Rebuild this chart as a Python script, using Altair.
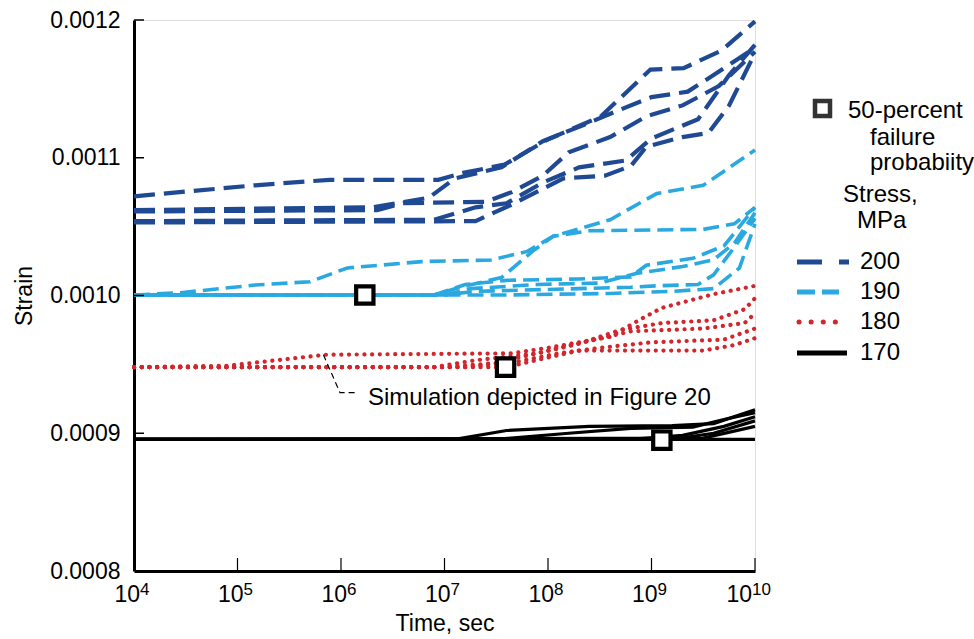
import altair as alt
import pandas as pd

# ---------------- data ----------------
# each curve: log10(time, s) and strain
# Stress = 200 MPa
S200_A_LOGT = [4.00, 5.17, 5.89, 6.94, 7.18, 7.58, 7.99, 8.51, 8.99, 9.31, 9.68, 10.00]
S200_A_STRAIN = [0.001072, 0.001080, 0.001084, 0.001084, 0.001089, 0.001095, 0.001113, 0.001130, 0.001164, 0.001165, 0.001178, 0.001199]
S200_B_LOGT = [4.00, 6.30, 6.85, 7.10, 7.55, 7.95, 8.35, 8.70, 9.00, 9.35, 9.60, 10.00]
S200_B_STRAIN = [0.001062, 0.001064, 0.001071, 0.001085, 0.001093, 0.001112, 0.001124, 0.001135, 0.001144, 0.001148, 0.001160, 0.001180]
S200_C_LOGT = [4.00, 6.35, 6.60, 7.40, 7.65, 7.95, 8.20, 8.60, 8.95, 9.30, 9.65, 10.00]
S200_C_STRAIN = [0.001061, 0.001062, 0.001067, 0.001068, 0.001075, 0.001087, 0.001104, 0.001115, 0.001130, 0.001138, 0.001152, 0.001177]
S200_D_LOGT = [4.00, 6.90, 7.30, 7.60, 7.95, 8.30, 8.75, 9.00, 9.45, 9.75, 10.00]
S200_D_STRAIN = [0.001054, 0.001055, 0.001064, 0.001067, 0.001082, 0.001093, 0.001098, 0.001114, 0.001128, 0.001160, 0.001182]
S200_E_LOGT = [4.00, 7.30, 7.65, 8.15, 8.55, 8.80, 8.95, 9.30, 9.55, 9.75, 10.00]
S200_E_STRAIN = [0.001053, 0.001054, 0.001066, 0.001085, 0.001087, 0.001094, 0.001108, 0.001115, 0.001118, 0.001138, 0.001176]

# Stress = 190 MPa
S190_F_LOGT = [4.00, 4.45, 5.17, 5.70, 6.06, 6.78, 7.45, 7.80, 8.05, 8.60, 9.05, 9.50, 10.00]
S190_F_STRAIN = [0.0010004, 0.0010020, 0.0010076, 0.0010100, 0.0010200, 0.0010246, 0.0010258, 0.0010320, 0.0010430, 0.0010550, 0.0010740, 0.0010800, 0.0011056]
S190_G_LOGT = [4.00, 6.90, 7.15, 7.55, 7.85, 8.05, 8.40, 9.50, 9.80, 10.00]
S190_G_STRAIN = [0.0010004, 0.0010004, 0.0010060, 0.0010130, 0.0010320, 0.0010430, 0.0010470, 0.0010480, 0.0010520, 0.0010640]
S190_H_LOGT = [4.00, 6.90, 7.20, 7.60, 8.30, 8.80, 8.95, 9.40, 9.70, 10.00]
S190_H_STRAIN = [0.0010004, 0.0010004, 0.0010080, 0.0010110, 0.0010120, 0.0010135, 0.0010220, 0.0010270, 0.0010360, 0.0010640]
S190_I_LOGT = [4.00, 7.00, 7.25, 7.90, 8.50, 8.85, 9.30, 9.60, 9.80, 10.00]
S190_I_STRAIN = [0.0010004, 0.0010004, 0.0010050, 0.0010080, 0.0010090, 0.0010160, 0.0010210, 0.0010260, 0.0010380, 0.0010600]
S190_J_LOGT = [4.00, 7.00, 7.30, 8.80, 9.05, 9.45, 9.60, 9.80, 10.00]
S190_J_STRAIN = [0.0010004, 0.0010004, 0.0010030, 0.0010060, 0.0010070, 0.0010080, 0.0010150, 0.0010350, 0.0010560]
S190_K_LOGT = [4.00, 7.60, 8.60, 9.20, 9.60, 9.85, 10.00]
S190_K_STRAIN = [0.0010004, 0.0010004, 0.0010015, 0.0010030, 0.0010050, 0.0010200, 0.0010520]

# Stress = 180 MPa
S180_L_LOGT = [4.00, 4.90, 5.85, 7.65, 8.00, 8.60, 8.90, 9.10, 9.60, 10.00]
S180_L_STRAIN = [0.000948, 0.000949, 0.000957, 0.000958, 0.000962, 0.000970, 0.000983, 0.000991, 0.001001, 0.001007]
S180_M_LOGT = [4.00, 6.90, 7.30, 7.90, 8.30, 8.70, 9.10, 9.60, 9.90, 10.00]
S180_M_STRAIN = [0.000948, 0.000948, 0.000953, 0.000958, 0.000965, 0.000975, 0.000980, 0.000982, 0.000990, 0.000998]
S180_N_LOGT = [4.00, 7.00, 7.50, 8.00, 8.40, 8.80, 9.50, 9.90, 10.00]
S180_N_STRAIN = [0.000948, 0.000948, 0.000951, 0.000960, 0.000967, 0.000974, 0.000976, 0.000980, 0.000987]
S180_O_LOGT = [4.00, 7.20, 7.70, 8.10, 8.50, 9.00, 9.70, 10.00]
S180_O_STRAIN = [0.000948, 0.000948, 0.000952, 0.000958, 0.000962, 0.000966, 0.000968, 0.000976]
S180_P_LOGT = [4.00, 7.60, 8.00, 8.30, 9.50, 9.80, 10.00]
S180_P_STRAIN = [0.000948, 0.000948, 0.000955, 0.000960, 0.000960, 0.000964, 0.000969]

# Stress = 170 MPa
S170_Q_LOGT = [4.00, 7.10, 7.60, 8.40, 9.20, 9.60, 10.00]
S170_Q_STRAIN = [0.0008956, 0.0008956, 0.0009020, 0.0009050, 0.0009055, 0.0009070, 0.0009170]
S170_R_LOGT = [4.00, 7.50, 8.20, 8.80, 9.40, 9.70, 10.00]
S170_R_STRAIN = [0.0008956, 0.0008956, 0.0009000, 0.0009035, 0.0009045, 0.0009100, 0.0009150]
S170_S_LOGT = [4.00, 8.80, 9.30, 9.70, 10.00]
S170_S_STRAIN = [0.0008956, 0.0008956, 0.0008985, 0.0009050, 0.0009120]
S170_T_LOGT = [4.00, 9.20, 9.60, 10.00]
S170_T_STRAIN = [0.0008956, 0.0008956, 0.0009000, 0.0009090]
S170_U_LOGT = [4.00, 9.50, 10.00]
S170_U_STRAIN = [0.0008956, 0.0008965, 0.0009050]
S170_V_LOGT = [4.00, 10.00]
S170_V_STRAIN = [0.0008956, 0.0008956]

# 50-percent failure probability markers
FAIL50_LOGT = [6.23, 7.59, 9.10]
FAIL50_STRAIN = [0.0010004, 0.000948, 0.000895]

# annotation
LEADER_LOGT = [5.83, 5.99, 6.14]
LEADER_STRAIN = [0.0009570, 0.0009295, 0.0009295]
ANNOT_LOGT = [6.26]
ANNOT_STRAIN = [0.0009205]
ANNOT_TEXT = ["Simulation depicted in Figure 20"]

# axes
X_TICKS_LOGT = [4, 5, 6, 7, 8, 9, 10]
X_BASE_LABELS = ["10", "10", "10", "10", "10", "10", "10"]
X_EXP_LABELS = ["4", "5", "6", "7", "8", "9", "10"]
Y_TICKS = [0.0008, 0.0009, 0.0010, 0.0011, 0.0012]

LEGEND_LABELS = ["200", "190", "180", "170"]

CURVES = {
    200: [(S200_A_LOGT, S200_A_STRAIN), (S200_B_LOGT, S200_B_STRAIN), (S200_C_LOGT, S200_C_STRAIN),
          (S200_D_LOGT, S200_D_STRAIN), (S200_E_LOGT, S200_E_STRAIN)],
    190: [(S190_F_LOGT, S190_F_STRAIN), (S190_G_LOGT, S190_G_STRAIN), (S190_H_LOGT, S190_H_STRAIN),
          (S190_I_LOGT, S190_I_STRAIN), (S190_J_LOGT, S190_J_STRAIN), (S190_K_LOGT, S190_K_STRAIN)],
    180: [(S180_L_LOGT, S180_L_STRAIN), (S180_M_LOGT, S180_M_STRAIN), (S180_N_LOGT, S180_N_STRAIN),
          (S180_O_LOGT, S180_O_STRAIN), (S180_P_LOGT, S180_P_STRAIN)],
    170: [(S170_Q_LOGT, S170_Q_STRAIN), (S170_R_LOGT, S170_R_STRAIN), (S170_S_LOGT, S170_S_STRAIN),
          (S170_T_LOGT, S170_T_STRAIN), (S170_U_LOGT, S170_U_STRAIN), (S170_V_LOGT, S170_V_STRAIN)],
}

# ---------------- styles ----------------
FONT = "Liberation Sans"
FS = 23
FS_TXT = 24
DARK_BLUE = "#1f4a93"
LIGHT_BLUE = "#2aa9e1"
RED = "#d2262c"
STYLE = {
    200: dict(color=DARK_BLUE, strokeWidth=4.2, strokeDash=[21, 9]),
    190: dict(color=LIGHT_BLUE, strokeWidth=3.6, strokeDash=[16, 7]),
    180: dict(color=RED, strokeWidth=4.2, strokeDash=[0.1, 7.6], strokeCap="round"),
    170: dict(color="black", strokeWidth=3.2),
}
DASH_OFFSET = {200: [0, 0, 0, 0, 0], 190: [0, 11.5, 0, 11.5, 0, 11.5], 180: [0] * 5, 170: [0] * 6}

W, H = 621, 551

XSCALE = alt.Scale(type="log", domain=[1e4, 1e10], nice=False)
YSCALE = alt.Scale(domain=[0.0008, 0.0012], nice=False)

X_AXIS = alt.Axis(values=[10.0 ** k for k in X_TICKS_LOGT], labels=False, title="Time, sec",
                  ticks=False, grid=False, domainColor="black", domainWidth=3,
                  titleFont=FONT, titleFontSize=FS, titleFontWeight="normal", titleColor="black",
                  titlePadding=41)
Y_AXIS = alt.Axis(values=Y_TICKS, format=".4f", title="Strain", ticks=False, grid=False,
                  domainColor="black", domainWidth=3,
                  labelFont=FONT, labelFontSize=FS, labelColor="black", labelPadding=14,
                  labelFlush=False, labelOverlap=False,
                  titleFont=FONT, titleFontSize=FS, titleFontWeight="normal", titleColor="black",
                  titlePadding=13)


def xenc():
    return alt.X("time:Q", scale=XSCALE, axis=X_AXIS)


def yenc():
    return alt.Y("strain:Q", scale=YSCALE, axis=Y_AXIS)


layers = []

# curves
for stress in [170, 180, 190, 200]:
    for i, (lt, st) in enumerate(CURVES[stress]):
        df = pd.DataFrame({"time": [10.0 ** v for v in lt], "strain": st, "idx": list(range(len(lt)))})
        layers.append(
            alt.Chart(df).mark_line(strokeDashOffset=DASH_OFFSET[stress][i], **STYLE[stress])
            .encode(x=xenc(), y=yenc(), order="idx:Q")
        )

# inward tick marks
yt = pd.DataFrame({"strain": Y_TICKS[1:]})
layers.append(alt.Chart(yt).mark_rule(color="black", strokeWidth=1.5)
              .encode(y=yenc(), x=alt.value(0), x2=alt.value(10)))
xt = pd.DataFrame({"time": [10.0 ** k for k in X_TICKS_LOGT[1:]]})
layers.append(alt.Chart(xt).mark_rule(color="black", strokeWidth=1.2)
              .encode(x=xenc(), y=alt.value(H), y2=alt.value(H - 13)))

# x tick labels: "10" with a raised exponent
xl = pd.DataFrame({"time": [10.0 ** k for k in X_TICKS_LOGT], "base": X_BASE_LABELS, "exp": X_EXP_LABELS,
                   "two": [len(e) > 1 for e in X_EXP_LABELS]})
for two, dx in [(False, 6), (True, -3)]:
    sub = xl[xl["two"] == two]
    layers.append(alt.Chart(sub).mark_text(align="right", baseline="alphabetic", font=FONT, fontSize=FS,
                                           color="black", dx=dx)
                  .encode(x=xenc(), y=alt.value(H + 31), text="base:N"))
    layers.append(alt.Chart(sub).mark_text(align="left", baseline="alphabetic", font=FONT, fontSize=17,
                                           color="black", dx=dx)
                  .encode(x=xenc(), y=alt.value(H + 24), text="exp:N"))

# leader line + annotation
ld = pd.DataFrame({"time": [10.0 ** v for v in LEADER_LOGT], "strain": LEADER_STRAIN, "idx": [0, 1, 2]})
layers.append(alt.Chart(ld).mark_line(color="black", strokeWidth=1.2, strokeDash=[6, 4])
              .encode(x=xenc(), y=yenc(), order="idx:Q"))
an = pd.DataFrame({"time": [10.0 ** v for v in ANNOT_LOGT], "strain": ANNOT_STRAIN, "txt": ANNOT_TEXT})
layers.append(alt.Chart(an).mark_text(align="left", baseline="alphabetic", font=FONT, fontSize=FS_TXT, color="black")
              .encode(x=xenc(), y=yenc(), text="txt:N"))

# 50-percent failure squares
sq = pd.DataFrame({"time": [10.0 ** v for v in FAIL50_LOGT], "strain": FAIL50_STRAIN})
layers.append(alt.Chart(sq).mark_square(size=300, filled=True, fill="white", stroke="black", strokeWidth=4.2, opacity=1)
              .encode(x=xenc(), y=yenc()))

# ---------------- legend (drawn by hand, pixel layout) ----------------
one = pd.DataFrame({"a": [0]})
layers.append(alt.Chart(one).mark_square(size=225, filled=True, fill="white", stroke="#333333", strokeWidth=4.5, opacity=1)
              .encode(x=alt.value(688.5), y=alt.value(88.5)))


def legend_text(txt, x, y):
    return alt.Chart(one).mark_text(align="left", baseline="alphabetic", font=FONT, fontSize=FS_TXT,
                                    color="black").encode(x=alt.value(x), y=alt.value(y), text=alt.value(txt))


layers += [
    legend_text("50-percent", 714, 98),
    legend_text("failure", 736, 125),
    legend_text("probabiity", 736, 150),
    legend_text("Stress,", 709, 182),
    legend_text("MPa", 723, 208),
]

LEG_Y = [242, 272, 302, 333]
LEG_SAMPLE = [
    dict(color=DARK_BLUE, strokeWidth=5, strokeDash=[25, 17], x2=715),
    dict(color=LIGHT_BLUE, strokeWidth=5, strokeDash=[18, 7], x2=705),
    dict(color=RED, strokeWidth=5, strokeDash=[0.1, 12], strokeCap="round", x2=703),
    dict(color="black", strokeWidth=5, x2=713),
]
for lab, y, smp in zip(LEGEND_LABELS, LEG_Y, LEG_SAMPLE):
    smp = dict(smp)
    x2 = smp.pop("x2")
    x1 = 665 if "strokeCap" in smp else 663
    layers.append(alt.Chart(one).mark_rule(**smp).encode(x=alt.value(x1), x2=alt.value(x2), y=alt.value(y)))
    layers.append(alt.Chart(one).mark_text(align="left", baseline="middle", font=FONT, fontSize=FS_TXT, color="black")
                  .encode(x=alt.value(726), y=alt.value(y), text=alt.value(lab)))

chart = alt.layer(*layers).properties(
    width=W, height=H,
    padding={"left": 134, "top": 20, "right": 974 - 134 - W, "bottom": 639 - 20 - H},
    autosize=alt.AutoSizeParams(type="none"),
).configure_view(stroke=None).configure(font=FONT, background="white")

chart.save("out.html", embed_options={"renderer": "svg", "actions": False})
